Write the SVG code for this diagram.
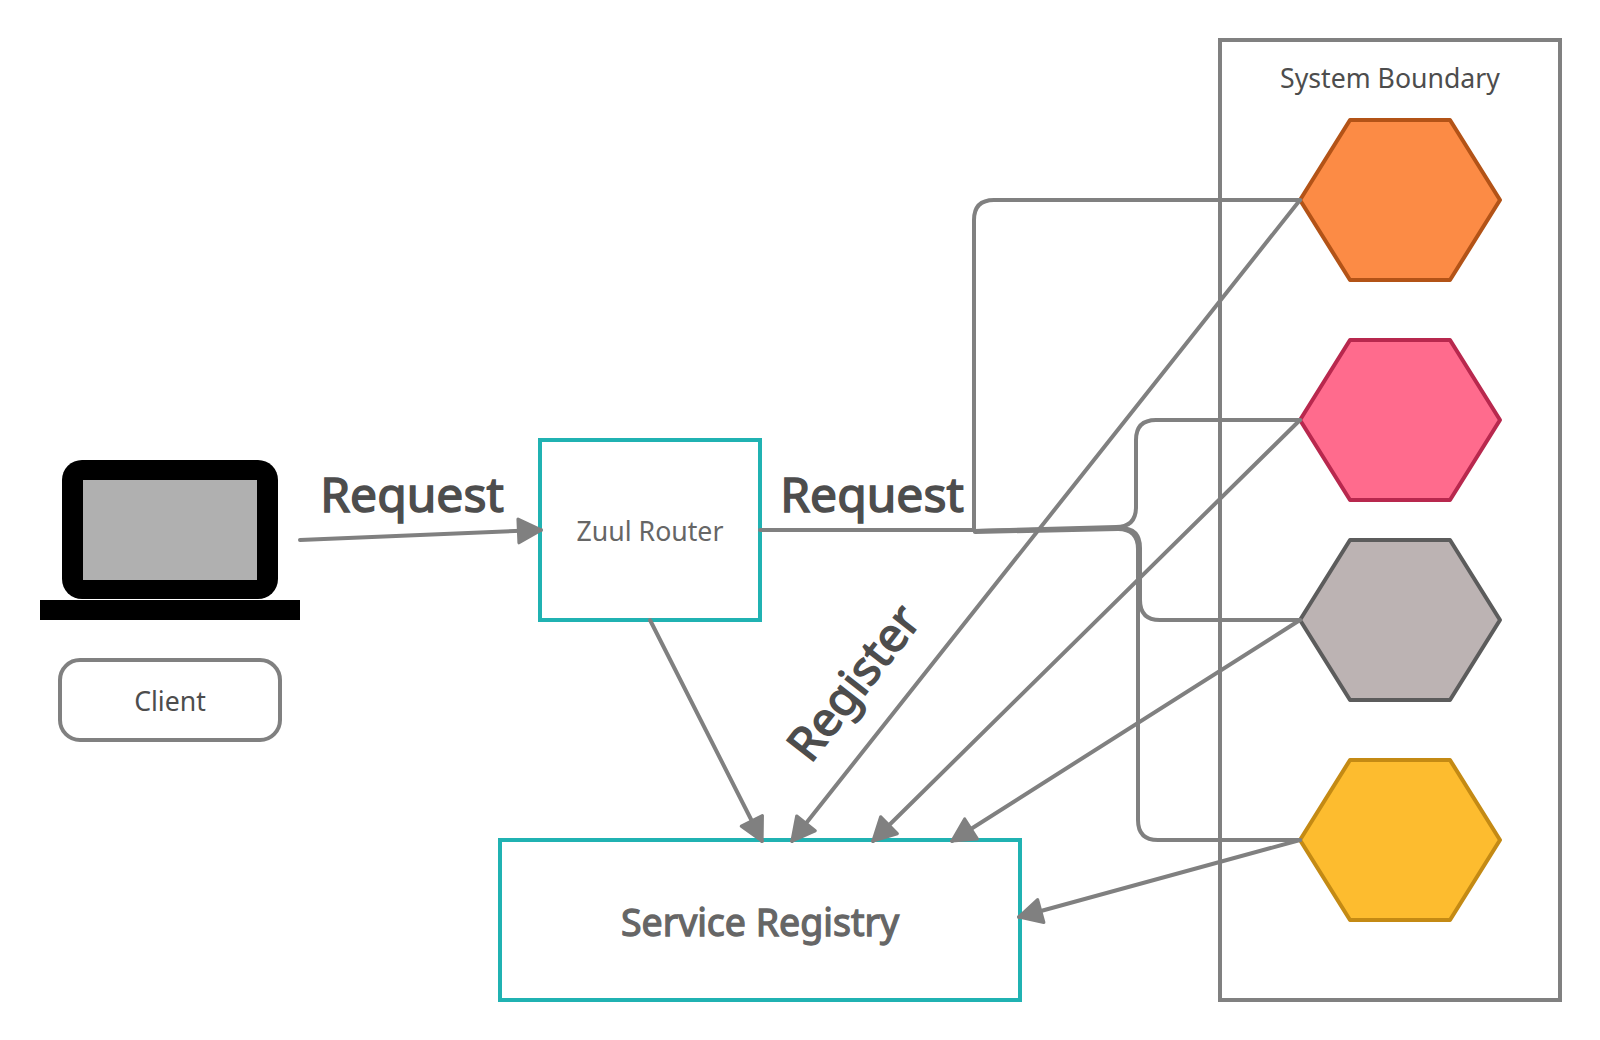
<svg xmlns="http://www.w3.org/2000/svg" width="1600" height="1040" viewBox="0 0 1600 1040">
<style>
text{font-family:"Noto Sans","Open Sans",sans-serif;text-anchor:middle}
.c{fill:none;stroke:#808080;stroke-width:4;stroke-linecap:round;stroke-linejoin:round}
.teal{fill:#fff;stroke:#20b2b2;stroke-width:4}
.big{font-size:48px;font-weight:400;fill:#4d4d4d;stroke:#4d4d4d;stroke-width:1.5}
.mid{font-size:37.5px;font-weight:400;fill:#666;stroke:#666;stroke-width:1.3}
.hex{stroke-width:4;stroke-linejoin:round}
.lbl{font-size:26.67px}
</style>
<defs>
<marker id="a" markerUnits="userSpaceOnUse" markerWidth="30" markerHeight="30" refX="24" refY="14" orient="auto" viewBox="0 0 28 28">
<path d="M3 3L24 14L3 25Z" fill="#808080" stroke="#808080" stroke-width="3" stroke-linejoin="round"/>
</marker>
</defs>
<g id="boundary"><rect x="1220" y="40" width="340" height="960" fill="#fff" stroke="#808080" stroke-width="4"/><text class="lbl" x="1390" y="88" fill="#4d4d4d">System Boundary</text></g>
<g id="laptop">
<rect x="62" y="460" width="216" height="139" rx="20" fill="#000"/>
<rect x="83" y="480" width="174" height="100" fill="#b0b0b0"/>
<rect x="40" y="600" width="260" height="20" fill="#000"/>
</g>
<g id="client"><rect x="60" y="660" width="220" height="80" rx="20" fill="#fff" stroke="#808080" stroke-width="4"/><text class="lbl" x="170" y="710.5" fill="#4d4d4d">Client</text></g>
<g id="zuul"><rect class="teal" x="540" y="440" width="220" height="180"/><text class="lbl" x="650" y="540.5" fill="#666">Zuul Router</text></g>
<g id="registry"><rect class="teal" x="500" y="840" width="520" height="160"/><text class="mid" x="760" y="936">Service Registry</text></g>
<g id="hex1"><polygon class="hex" points="1350,120 1450,120 1500,200 1450,280 1350,280 1300,200" fill="#fc8b45" stroke="#b35317"/></g>
<g id="hex2"><polygon class="hex" points="1350,340 1450,340 1500,420 1450,500 1350,500 1300,420" fill="#ff6b8d" stroke="#b8284e"/></g>
<g id="hex3"><polygon class="hex" points="1350,540 1450,540 1500,620 1450,700 1350,700 1300,620" fill="#bcb3b3" stroke="#5c5c5c"/></g>
<g id="hex4"><polygon class="hex" points="1350,760 1450,760 1500,840 1450,920 1350,920 1300,840" fill="#fdbc2f" stroke="#c48a14"/></g>
<g id="connectors">
<path class="c" d="M760 530H974V220Q974 200 994 200H1300"/>
<path class="c" d="M975 531L1116 527Q1136 527 1136 507V440Q1136 420 1156 420H1300"/>
<path class="c" d="M975 531L1120 528Q1140 528 1140 548V600Q1140 620 1160 620H1300"/>
<path class="c" d="M975 532L1118 529Q1138 529 1138 549V820Q1138 840 1158 840H1300"/>
<line class="c" x1="300" y1="540" x2="541" y2="530" marker-end="url(#a)"/>
<line class="c" x1="650" y1="620" x2="762" y2="841" marker-end="url(#a)"/>
<line class="c" x1="1300" y1="200" x2="792" y2="841" marker-end="url(#a)"/>
<line class="c" x1="1300" y1="420" x2="873" y2="841" marker-end="url(#a)"/>
<line class="c" x1="1300" y1="620" x2="952" y2="841" marker-end="url(#a)"/>
<line class="c" x1="1300" y1="840" x2="1019" y2="917" marker-end="url(#a)"/>
</g>
<g id="labels">
<text class="big" x="412" y="512">Request</text>
<text class="big" x="872" y="512">Request</text>
<text class="big" transform="translate(854 683) rotate(-52)" x="0" y="16" style="font-size:47px">Register</text>
</g>
</svg>
